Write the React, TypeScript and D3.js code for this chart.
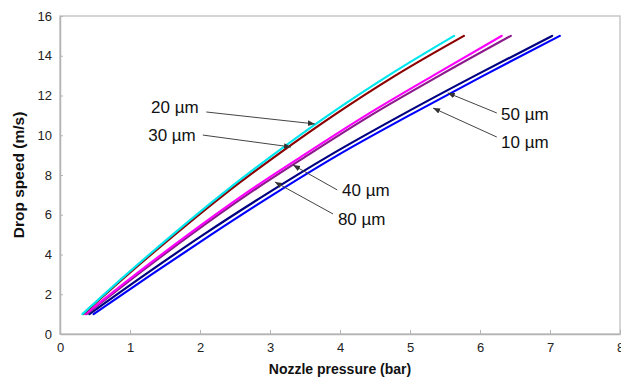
/**
 * Drop speed vs nozzle pressure chart
 * D3.js line chart, one curve per drop diameter
 */

import { useEffect, useRef } from 'react';
import * as d3 from 'd3';

// Speeds (m/s) at which the pressure of each curve was read
const speeds = [1, 3, 5, 7, 9, 11, 13, 15];

// Nozzle pressure (bar) for each curve at the speeds above
const p20 = [0.32, 0.95, 1.61, 2.3, 3.04, 3.83, 4.69, 5.63];
const p30 = [0.33, 0.97, 1.64, 2.34, 3.1, 3.91, 4.79, 5.77];
const p40 = [0.36, 1.08, 1.83, 2.62, 3.48, 4.37, 5.33, 6.31];
const p80 = [0.38, 1.11, 1.87, 2.67, 3.54, 4.44, 5.42, 6.44];
const p50 = [0.42, 1.22, 2.05, 2.93, 3.86, 4.87, 5.93, 7.03];
const p10 = [0.48, 1.31, 2.16, 3.04, 3.97, 4.99, 6.05, 7.14];

const seriesNames = ['10 µm', '50 µm', '80 µm', '40 µm', '30 µm', '20 µm'];
const seriesValues = [p10, p50, p80, p40, p30, p20];
const seriesColors = ['#0000ff', '#000080', '#8b1a8b', '#ff00ff', '#8b0000', '#00e5ee'];

const xTicks = [0, 1, 2, 3, 4, 5, 6, 7, 8];
const yTicks = [0, 2, 4, 6, 8, 10, 12, 14, 16];

// Callouts: label position, arrow start and arrow tip, all in data units
const labelTexts = ['20 µm', '30 µm', '40 µm', '80 µm', '50 µm', '10 µm'];
const labelAt = [[1.3, 11.42], [1.26, 10.01], [4.03, 7.25], [3.97, 5.79], [6.3, 11.07], [6.3, 9.66]];
const arrowFrom = [[2.09, 11.17], [2.04, 10.01], [3.96, 7.25], [3.9, 6.04], [6.24, 11.12], [6.24, 9.91]];
const arrowTo = [[3.64, 10.57], [3.3, 9.41], [3.33, 8.5], [3.07, 7.65], [5.54, 12.13], [5.33, 11.37]];

const width = 621;
const height = 377;
const margin = { top: 16, right: 1, bottom: 43, left: 60 };

export default function App() {
  const svgRef = useRef<SVGSVGElement>(null);

  useEffect(() => {
    if (!svgRef.current) return;

    const svg = d3.select(svgRef.current);
    svg.selectAll('*').remove();

    const x = d3.scaleLinear().domain([0, 8]).range([margin.left, width - margin.right]);
    const y = d3.scaleLinear().domain([0, 16]).range([height - margin.bottom, margin.top]);

    const font = 'Liberation Sans, Arial, sans-serif';

    // Arrowhead
    svg.append('defs')
      .append('marker')
      .attr('id', 'head')
      .attr('viewBox', '0 0 10 10')
      .attr('refX', 10)
      .attr('refY', 5)
      .attr('markerWidth', 7)
      .attr('markerHeight', 7)
      .attr('markerUnits', 'userSpaceOnUse')
      .attr('orient', 'auto')
      .append('path')
      .attr('d', 'M0,1 L10,5 L0,9 Z')
      .attr('fill', '#333');

    // Frame
    svg.append('rect')
      .attr('x', x(0))
      .attr('y', y(16))
      .attr('width', x(8) - x(0))
      .attr('height', y(0) - y(16))
      .attr('fill', 'none')
      .attr('stroke', '#c8c8c8')
      .attr('stroke-width', 1.5);

    // Ticks (inside)
    svg.append('g')
      .attr('transform', `translate(0,${y(0)})`)
      .call(d3.axisBottom(x).tickValues(xTicks).tickSizeInner(-4).tickSizeOuter(0).tickPadding(9))
      .call(g => g.select('.domain').attr('stroke', '#b4b4b4').attr('stroke-width', 1.5))
      .call(g => g.selectAll('.tick line').attr('stroke', '#b4b4b4'))
      .call(g => g.selectAll('.tick text')
        .attr('fill', '#222')
        .style('font-family', font)
        .style('font-size', '13px'));

    svg.append('g')
      .attr('transform', `translate(${x(0)},0)`)
      .call(d3.axisLeft(y).tickValues(yTicks).tickSizeInner(-3).tickSizeOuter(0).tickPadding(8))
      .call(g => g.select('.domain').attr('stroke', '#b4b4b4').attr('stroke-width', 1.5))
      .call(g => g.selectAll('.tick line').attr('stroke', '#b4b4b4'))
      .call(g => g.selectAll('.tick text')
        .attr('fill', '#222')
        .style('font-family', font)
        .style('font-size', '13px'));

    // Axis titles
    svg.append('text')
      .attr('x', (x(0) + x(8)) / 2)
      .attr('y', 374)
      .attr('text-anchor', 'middle')
      .style('font-family', font)
      .style('font-size', '14px')
      .style('font-weight', 'bold')
      .attr('fill', '#111')
      .text('Nozzle pressure (bar)');

    svg.append('text')
      .attr('transform', `translate(24,${(y(0) + y(16)) / 2}) rotate(-90)`)
      .attr('text-anchor', 'middle')
      .style('font-family', font)
      .style('font-size', '15.5px')
      .style('font-weight', 'bold')
      .attr('fill', '#111')
      .text('Drop speed (m/s)');

    // Curves
    const line = d3.line<number>()
      .x(d => x(d))
      .y((_d, i) => y(speeds[i]))
      .curve(d3.curveMonotoneX);

    svg.append('g')
      .selectAll('path')
      .data(seriesValues)
      .enter()
      .append('path')
      .attr('d', d => line(d))
      .attr('fill', 'none')
      .attr('stroke', (_d, i) => seriesColors[i])
      .attr('stroke-width', 2.2)
      .attr('stroke-linecap', 'round')
      .attr('data-name', (_d, i) => seriesNames[i]);

    // Callouts
    const notes = svg.append('g');
    labelTexts.forEach((t, i) => {
      notes.append('line')
        .attr('x1', x(arrowFrom[i][0]))
        .attr('y1', y(arrowFrom[i][1]))
        .attr('x2', x(arrowTo[i][0]))
        .attr('y2', y(arrowTo[i][1]))
        .attr('stroke', '#444')
        .attr('stroke-width', 1)
        .attr('marker-end', 'url(#head)');

      notes.append('text')
        .attr('x', x(labelAt[i][0]))
        .attr('y', y(labelAt[i][1]))
        .attr('dy', '0.36em')
        .style('font-family', font)
        .style('font-size', '17px')
        .attr('fill', '#111')
        .text(t);
    });
  }, []);

  return (
    <svg
      ref={svgRef}
      width={width}
      height={height}
      style={{ position: 'fixed', left: 0, top: 0, background: '#fff' }}
    />
  );
}
